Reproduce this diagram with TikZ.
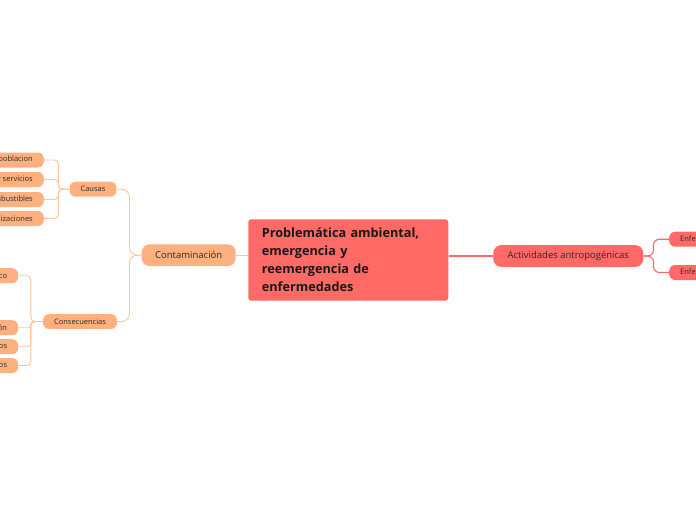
\documentclass[tikz,border=0pt]{standalone}
\usepackage{fontspec}
\setmainfont{Open Sans}
\definecolor{orfill}{HTML}{FFB07F}
\definecolor{orline}{HTML}{FFC49C}
\definecolor{rdfill}{HTML}{FF6966}
\definecolor{rdline}{HTML}{F26B6B}
\definecolor{txt}{HTML}{2B2B2B}
\begin{document}
\begin{tikzpicture}[x=1pt,y=-1pt,
  smallbox/.style={fill=orfill, text=txt, rounded corners=6, inner xsep=11, inner ysep=0,
    minimum height=15, font=\fontsize{7.5}{9}\selectfont},
  midbox/.style={fill=orfill, text=txt, rounded corners=8, inner xsep=8, inner ysep=0,
    minimum height=21.7, font=\fontsize{9.5}{11}\selectfont},
  redmid/.style={midbox, fill=rdfill},
  redsmall/.style={smallbox, fill=rdfill},
  orconn/.style={draw=orline, line width=0.9pt},
  rdconn/.style={draw=rdline, line width=1.1pt},
]
\useasboundingbox (0,0) rectangle (696,520);

% central topic
\node[fill=rdfill, rounded corners=3, text=black!90, text width=173, align=left,
  inner xsep=13.5, inner ysep=0, minimum width=200, minimum height=81.4,
  font=\bfseries\fontsize{12.7}{17.9}\selectfont] (root) at (348.3,260)
  {Problemática ambiental,\\emergencia y\\reemergencia de\\enfermedades};

% left branch
\node[midbox, minimum width=94] (cont) at (188.7,255.2) {Contaminación};
\node[smallbox, minimum width=46] (causas) at (93,189.2) {Causas};
\node[smallbox, minimum width=72] (conse) at (80,321.5) {Consecuencias};

\node[smallbox, anchor=east] (c1) at (44,160) {Aumento de la poblacion};
\node[smallbox, anchor=east] (c2) at (44,179.5) {Comercio y servicios};
\node[smallbox, anchor=east] (c3) at (44,199.5) {Quema de combustibles};
\node[smallbox, anchor=east] (c4) at (44,218.5) {Urbanizaciones};

\node[smallbox, anchor=east] (k1) at (18.3,275.7) {Cambio climático};
\node[smallbox, anchor=east] (k2) at (18.3,327.7) {Desertificación};
\node[smallbox, anchor=east] (k3) at (18.3,346.7) {Daños ecológicos};
\node[smallbox, anchor=east] (k4) at (18.3,365.5) {Problemas respiratorios};

% right branch
\node[redmid, minimum width=150] (act) at (568.3,256) {Actividades antropogénicas};
\node[redsmall, anchor=west] (e1) at (669,239.2) {Enfermedades emergentes};
\node[redsmall, anchor=west] (e2) at (669,272.5) {Enfermedades reemergentes};

% connectors
\draw[orconn] (cont.east) -- (cont.east -| root.west);
\draw[rdconn] (act.west -| root.east) -- (act.west);

\draw[orconn, rounded corners=8] (cont.west) -- ++(-12,0) |- (causas.east);
\draw[orconn, rounded corners=8] (cont.west) -- ++(-12,0) |- (conse.east);

\draw[orconn, rounded corners=4] (causas.west) -- ++(-11,0) |- (c1.east);
\draw[orconn, rounded corners=4] (causas.west) -- ++(-11,0) |- (c2.east);
\draw[orconn, rounded corners=4] (causas.west) -- ++(-11,0) |- (c3.east);
\draw[orconn, rounded corners=4] (causas.west) -- ++(-11,0) |- (c4.east);

\draw[orconn, rounded corners=4] (conse.west) -- ++(-12,0) |- (k1.east);
\draw[orconn, rounded corners=3] (conse.west) -- ++(-12,0) |- (k2.east);
\draw[orconn, rounded corners=4] (conse.west) -- ++(-12,0) |- (k3.east);
\draw[orconn, rounded corners=4] (conse.west) -- ++(-12,0) |- (k4.east);

\draw[rdconn, rounded corners=6] (act.east) -- ++(10,0) |- (e1.west);
\draw[rdconn, rounded corners=6] (act.east) -- ++(10,0) |- (e2.west);
\end{tikzpicture}
\end{document}
